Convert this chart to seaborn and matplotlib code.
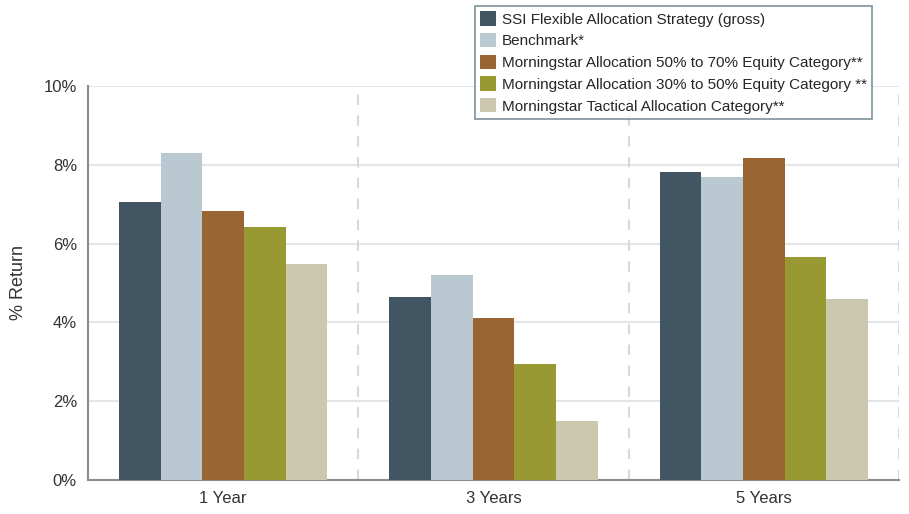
import matplotlib
matplotlib.use("Agg")
import matplotlib.pyplot as plt
import pandas as pd
import seaborn as sns
from matplotlib.ticker import FuncFormatter

# Chart data (annualized returns, %)
periods = ["1 Year", "3 Years", "5 Years"]
series_names = [
    "SSI Flexible Allocation Strategy (gross)",
    "Benchmark*",
    "Morningstar Allocation 50% to 70% Equity Category**",
    "Morningstar Allocation 30% to 50% Equity Category **",
    "Morningstar Tactical Allocation Category**",
]
ssi_flexible = [7.06, 4.64, 7.82]
benchmark = [8.30, 5.20, 7.69]
ms_50_70 = [6.83, 4.11, 8.17]
ms_30_50 = [6.42, 2.94, 5.66]
ms_tactical = [5.48, 1.50, 4.59]
y_ticks = [0, 2, 4, 6, 8, 10]

colors = ["#425563", "#BAC8D2", "#996633", "#999933", "#CBC8AF"]

rows = []
for name, vals in zip(series_names, [ssi_flexible, benchmark, ms_50_70, ms_30_50, ms_tactical]):
    for p, v in zip(periods, vals):
        rows.append({"Period": p, "Series": name, "Return": v})
df = pd.DataFrame(rows)

sns.set_style("white")
plt.rcParams["font.family"] = ["Liberation Sans", "DejaVu Sans"]

fig = plt.figure(figsize=(9.09, 5.14), dpi=100)
ax = fig.add_axes([88 / 909, 1 - 480 / 514, 811 / 909, 394 / 514])

sns.barplot(data=df, x="Period", y="Return", hue="Series", hue_order=series_names,
            order=periods, palette=colors, width=0.77, gap=0, linewidth=0,
            saturation=1, ax=ax, zorder=3)

ax.set_xlim(-0.5, 2.5)
ax.set_ylim(0, 10)
ax.set_yticks(y_ticks)
ax.yaxis.set_major_formatter(FuncFormatter(lambda v, _: f"{v:.0f}%"))
ax.grid(axis="y", color="#E1E6EA", linewidth=1.5, zorder=0)
for xv in [0.5, 1.5, 2.5]:
    ax.axvline(xv, color="#D8D8D8", linestyle=(0, (5, 5)), linewidth=1.5, zorder=1)

for side in ["top", "right"]:
    ax.spines[side].set_visible(False)
for side in ["left", "bottom"]:
    ax.spines[side].set_color("#8C8C8C")
    ax.spines[side].set_linewidth(1.5)

ax.set_xlabel("")
ax.set_ylabel("% Return", fontsize=13, color="#333333", labelpad=12)
ax.tick_params(axis="both", labelsize=12, colors="#333333", length=0, pad=8)

handles, labels = ax.get_legend_handles_labels()
ax.legend_.remove()
leg = fig.legend(handles, labels, loc="upper left", bbox_to_anchor=(475 / 909, 1 - 6 / 514),
                 fontsize=11, frameon=True, fancybox=False, handlelength=1.0, handleheight=1.05,
                 handletextpad=0.4, labelspacing=0.42, borderpad=0.35, borderaxespad=0)
leg.get_frame().set_edgecolor("#5F7785")
leg.get_frame().set_linewidth(1.2)

fig.savefig("out.png", dpi=100)
